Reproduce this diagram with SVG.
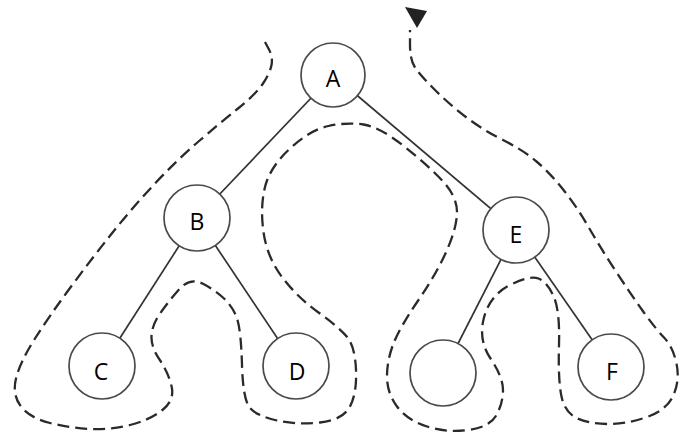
<svg xmlns="http://www.w3.org/2000/svg" width="682" height="437" viewBox="0 0 682 437">
<style>
.edge{stroke:#333;stroke-width:1.7;fill:none}
.tour{stroke:#2a2a2a;stroke-width:2.3;fill:none;stroke-dasharray:12 6;stroke-linecap:butt;stroke-linejoin:round}
.node circle{fill:#fff;stroke:#4a4a4a;stroke-width:1.7}
.node text{font-family:"Open Sans","Liberation Sans",sans-serif;font-size:23px;fill:#000;text-anchor:middle}
</style>
<rect width="682" height="437" fill="#fff"/>
<g id="connectors">
<line class="edge" x1="333" y1="75" x2="197" y2="218"/>
<line class="edge" x1="333" y1="75" x2="516" y2="230"/>
<line class="edge" x1="197" y1="218" x2="102" y2="366"/>
<line class="edge" x1="197" y1="218" x2="296" y2="366"/>
<line class="edge" x1="516" y1="230" x2="443" y2="373"/>
<line class="edge" x1="516" y1="230" x2="611" y2="367"/>
</g>
<g id="tour">
<path class="tour" d="M265,42 L269,49.5 Q273,57 271.5,65 Q270,73 263,83.5 Q256,94 238,108.5 Q220,123 198.5,141.5 Q177,160 155,183.5 Q133,207 113,232 Q93,257 71.5,286 Q50,315 35,338.5 Q20,362 16,378.5 Q12,395 21,406.5 Q30,418 50,423 Q70,428 90,429 Q110,430 130,425 Q150,420 162.5,410 Q175,400 171.5,386 Q168,372 159.5,359.5 Q151,347 151.5,336 Q152,325 160,313.5 Q168,302 179,289.5 Q190,277 202.5,283.5 Q215,290 224,298.5 Q233,307 237,318.5 Q241,330 242,365 Q243,400 250,408 Q257,416 277,420.5 Q297,425 320,422.5 Q343,420 350,406.5 Q357,393 356,370 Q355,347 347.5,337.5 Q340,328 318.5,312.5 Q297,297 282,277 Q267,257 263.5,232 Q260,207 265,187 Q270,167 290,148.5 Q310,130 328.5,126 Q347,122 363.5,124.5 Q380,127 405,147 Q430,167 443.5,182 Q457,197 457,212 Q457,227 447,250 Q437,273 418.5,300 Q400,327 393.5,343.5 Q387,360 387,376.5 Q387,393 397,406.5 Q407,420 427,426.5 Q447,433 468.5,430 Q490,427 496.5,415 Q503,403 503,390 Q503,377 490.5,358.5 Q478,340 484,317.5 Q490,295 510,285 Q530,275 538.5,278.5 Q547,282 553.5,296 Q560,310 559,345 Q558,380 561.5,396.5 Q565,413 577.5,418.5 Q590,424 608.5,424 Q627,424 647,417 Q667,410 673.5,395 Q680,380 676.5,363.5 Q673,347 664,337.5 Q655,328 642.5,310.5 Q630,293 615,270 Q600,247 588.5,227 Q577,207 563.5,190 Q550,173 536.5,161.5 Q523,150 503,140 Q483,130 466.5,117.5 Q450,105 435,90 Q420,75 415,67.5 Q410,60 410,45 L410,30"/>
<polygon points="405,7 427,11 417,28" fill="#222"/>
</g>
<g id="node-A" class="node"><circle cx="333" cy="75" r="32"/><text x="333" y="87">A</text></g>
<g id="node-B" class="node"><circle cx="197" cy="218" r="33"/><text x="197" y="230">B</text></g>
<g id="node-C" class="node"><circle cx="102" cy="366" r="33"/><text x="101" y="380">C</text></g>
<g id="node-D" class="node"><circle cx="296" cy="366" r="33"/><text x="297" y="380">D</text></g>
<g id="node-N" class="node"><circle cx="443" cy="373" r="33"/></g>
<g id="node-E" class="node"><circle cx="516" cy="230" r="33"/><text x="516" y="243">E</text></g>
<g id="node-F" class="node"><circle cx="611" cy="367" r="33"/><text x="612" y="380">F</text></g>
</svg>
